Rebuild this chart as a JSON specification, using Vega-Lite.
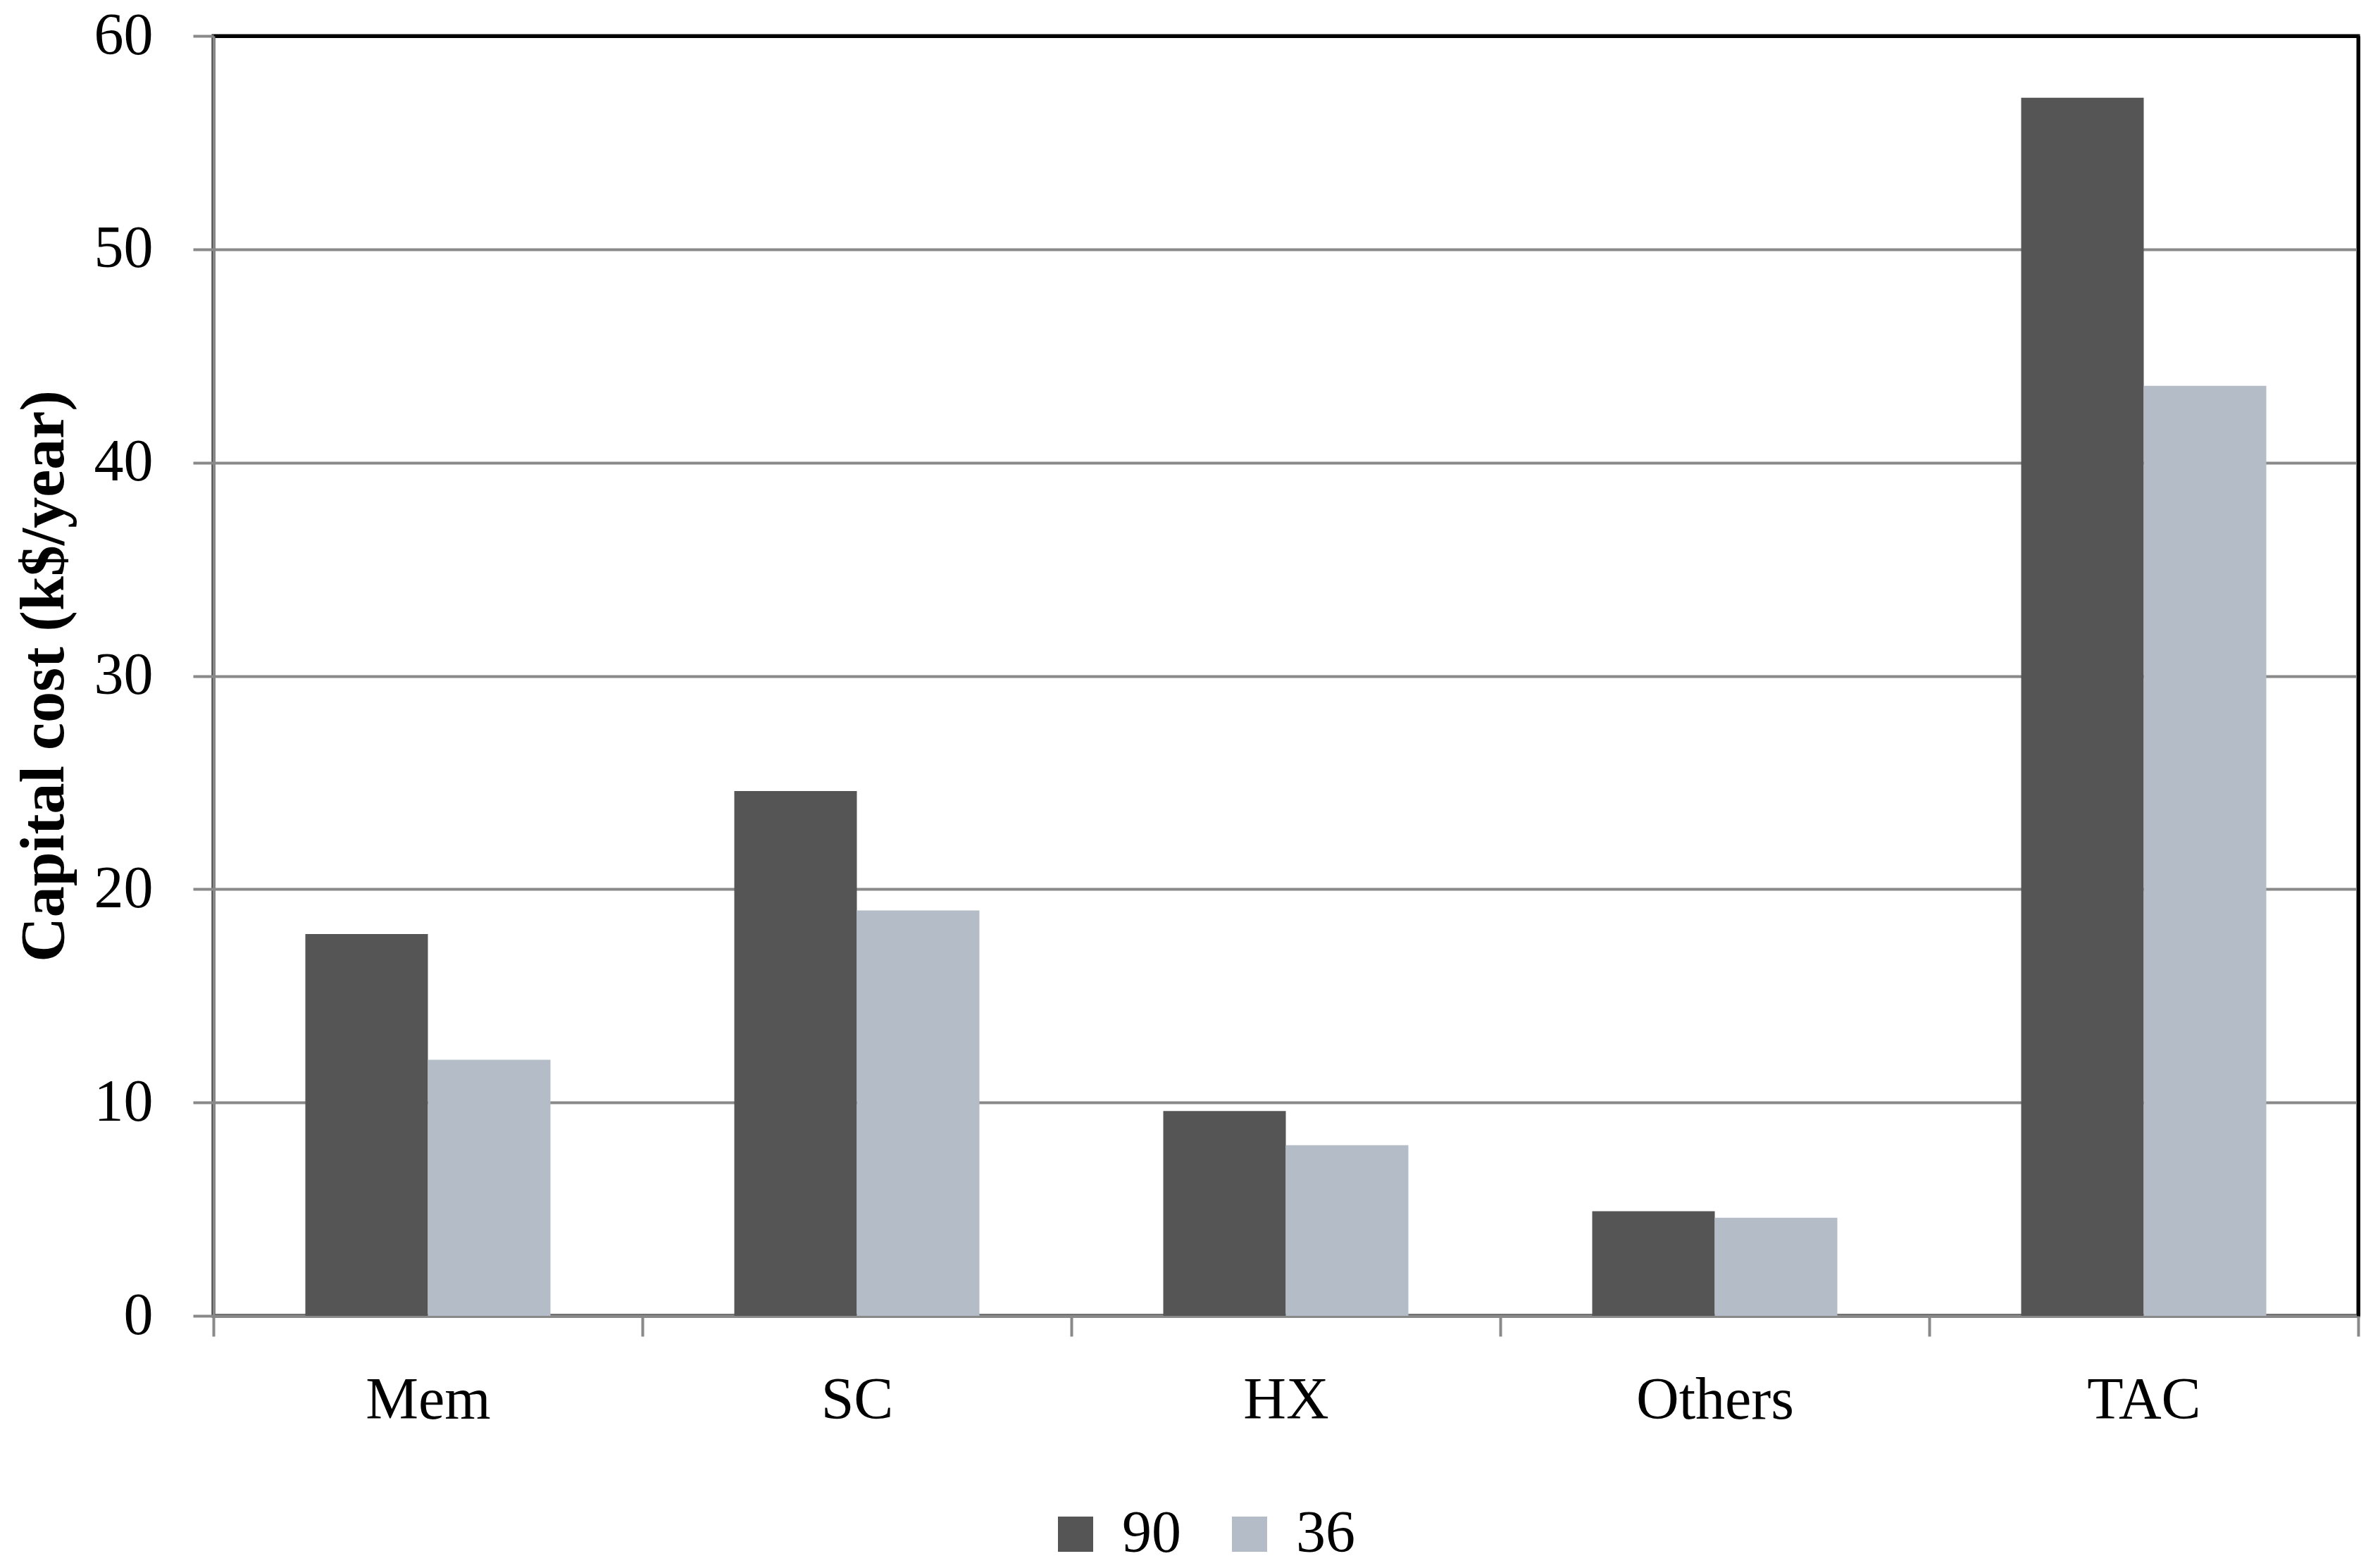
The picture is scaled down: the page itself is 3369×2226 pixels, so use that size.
{
  "$schema": "https://vega.github.io/schema/vega-lite/v6.json",
  "width": 3045,
  "height": 1817,
  "autosize": {"type": "none"},
  "padding": {"left": 303, "top": 51, "right": 21, "bottom": 358},
  "background": "white",
  "config": {
    "font": "Liberation Serif",
    "view": {"stroke": "#000000", "strokeWidth": 5}
  },
  "data": {
    "values": [
      {"component": "Mem", "series": "90", "cost": 17.9},
      {"component": "Mem", "series": "36", "cost": 12.0},
      {"component": "SC", "series": "90", "cost": 24.6},
      {"component": "SC", "series": "36", "cost": 19.0},
      {"component": "HX", "series": "90", "cost": 9.6},
      {"component": "HX", "series": "36", "cost": 8.0},
      {"component": "Others", "series": "90", "cost": 4.9},
      {"component": "Others", "series": "36", "cost": 4.6},
      {"component": "TAC", "series": "90", "cost": 57.1},
      {"component": "TAC", "series": "36", "cost": 43.6}
    ]
  },
  "resolve": {"axis": {"x": "independent", "y": "independent"}},
  "layer": [
    {
      "mark": {"type": "bar"},
      "encoding": {
        "x": {
          "field": "component",
          "type": "nominal",
          "sort": ["Mem", "SC", "HX", "Others", "TAC"],
          "scale": {"paddingInner": 0, "paddingOuter": 0},
          "axis": {
            "title": null,
            "labelFontSize": 84,
            "labelColor": "black",
            "labelPadding": 50,
            "labelAngle": 0,
            "labelLimit": 0,
            "tickSize": 29,
            "tickBand": "extent",
            "tickColor": "#898989",
            "tickWidth": 4,
            "domainColor": "#898989",
            "domainWidth": 4,
            "grid": false
          }
        },
        "xOffset": {
          "field": "series",
          "type": "nominal",
          "sort": ["90", "36"],
          "scale": {"paddingInner": 0, "paddingOuter": 0.75}
        },
        "y": {
          "field": "cost",
          "type": "quantitative",
          "scale": {"domain": [0, 60]},
          "axis": {
            "title": "Capital cost (k$/year)",
            "titleFontSize": 88,
            "titleFontWeight": "bold",
            "titleColor": "black",
            "titleAngle": -90,
            "titleX": -214,
            "titleY": 908.5,
            "titleAlign": "center",
            "titleBaseline": "alphabetic",
            "values": [0, 10, 20, 30, 40, 50, 60],
            "labelFontSize": 84,
            "labelColor": "black",
            "labelPadding": 57,
            "labelFlush": false,
            "labelOverlap": false,
            "tickSize": 29,
            "tickColor": "#898989",
            "tickWidth": 4,
            "domainColor": "#898989",
            "domainWidth": 4,
            "grid": true,
            "gridColor": "#898989",
            "gridWidth": 4
          }
        },
        "color": {
          "field": "series",
          "type": "nominal",
          "scale": {"domain": ["90", "36"], "range": ["#555555", "#b4bdc7"]},
          "legend": {
            "title": null,
            "orient": "none",
            "direction": "horizontal",
            "legendX": 1182,
            "legendY": 2085,
            "symbolType": "square",
            "symbolSize": 2500,
            "symbolStrokeWidth": 0,
            "symbolOpacity": 1,
            "labelFontSize": 84,
            "labelColor": "black",
            "labelOffset": 24,
            "columnPadding": 55
          }
        }
      }
    },
    {
      "mark": {"type": "bar", "opacity": 0},
      "encoding": {
        "x": {
          "field": "component",
          "type": "nominal",
          "sort": ["Mem", "SC", "HX", "Others", "TAC"],
          "axis": {
            "orient": "top",
            "title": null,
            "labels": false,
            "ticks": false,
            "grid": false,
            "domainColor": "#000000",
            "domainWidth": 5
          }
        },
        "xOffset": {
          "field": "series",
          "type": "nominal",
          "sort": ["90", "36"]
        },
        "y": {
          "field": "cost",
          "type": "quantitative",
          "axis": {
            "orient": "right",
            "title": null,
            "labels": false,
            "ticks": false,
            "grid": false,
            "domainColor": "#000000",
            "domainWidth": 5
          }
        }
      }
    }
  ]
}
